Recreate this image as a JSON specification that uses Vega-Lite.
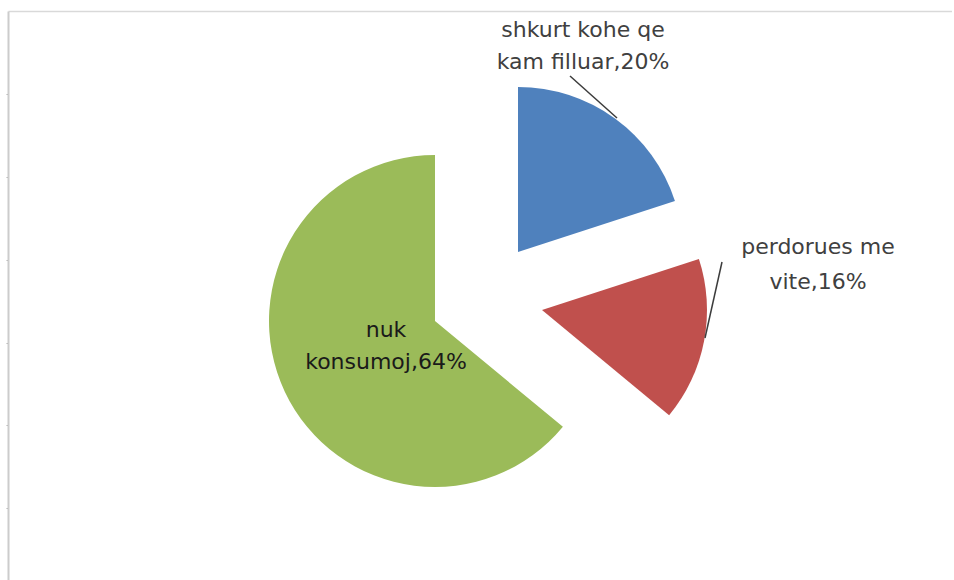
{
  "$schema": "https://vega.github.io/schema/vega-lite/v6.json",
  "width": 944,
  "height": 569,
  "autosize": "none",
  "padding": {"left": 8, "top": 11, "right": 0, "bottom": 0},
  "background": "white",
  "config": {"view": {"stroke": null}},
  "data": {
    "values": [
      {"cat": "shkurt kohe qe kam filluar", "value": 20, "order": 1, "label": "shkurt kohe qe\nkam filluar,20%"},
      {"cat": "perdorues me vite", "value": 16, "order": 2, "label": "perdorues me\nvite,16%"},
      {"cat": "nuk konsumoj", "value": 64, "order": 3, "label": "nuk\nkonsumoj,64%"}
    ]
  },
  "transform": [
    {"stack": "value", "groupby": [], "sort": [{"field": "order", "order": "ascending"}], "as": ["v0", "v1"]}
  ],
  "encoding": {
    "color": {
      "field": "cat", "type": "nominal", "legend": null,
      "scale": {"domain": ["shkurt kohe qe kam filluar", "perdorues me vite", "nuk konsumoj"], "range": ["#4F81BD", "#C0504D", "#9BBB59"]}
    }
  },
  "layer": [
    {
      "transform": [{"filter": "datum.order == 1"}],
      "mark": {"type": "arc", "radius": 165},
      "encoding": {
        "theta": {"field": "v0", "type": "quantitative", "scale": {"domain": [0, 100]}},
        "theta2": {"field": "v1"},
        "x": {"datum": 510, "type": "quantitative", "scale": {"domain": [0, 944]}, "axis": {"orient": "top", "labels": false, "ticks": false, "grid": false, "title": null, "domainColor": "#d9d9d9", "domainWidth": 1.5}},
        "y": {"datum": 241, "type": "quantitative", "scale": {"domain": [0, 569], "reverse": true}, "axis": {"orient": "left", "labels": false, "grid": false, "title": null, "values": [83, 166, 249, 332, 414, 497], "tickSize": 2, "tickColor": "#b0b0b0", "domainColor": "#cccccc", "domainWidth": 2}}
      }
    },
    {
      "transform": [{"filter": "datum.order == 2"}],
      "mark": {"type": "arc", "radius": 165},
      "encoding": {
        "theta": {"field": "v0", "type": "quantitative", "scale": {"domain": [0, 100]}},
        "theta2": {"field": "v1"},
        "x": {"datum": 534, "type": "quantitative", "scale": {"domain": [0, 944]}},
        "y": {"datum": 299, "type": "quantitative", "scale": {"domain": [0, 569], "reverse": true}}
      }
    },
    {
      "transform": [{"filter": "datum.order == 3"}],
      "mark": {"type": "arc", "radius": 166},
      "encoding": {
        "theta": {"field": "v0", "type": "quantitative", "scale": {"domain": [0, 100]}},
        "theta2": {"field": "v1"},
        "x": {"datum": 427, "type": "quantitative", "scale": {"domain": [0, 944]}},
        "y": {"datum": 310, "type": "quantitative", "scale": {"domain": [0, 569], "reverse": true}}
      }
    },
    {
      "transform": [{"filter": "datum.order == 1"}],
      "mark": {"type": "rule", "strokeWidth": 1.5},
      "encoding": {
        "x": {"datum": 562, "type": "quantitative", "scale": {"domain": [0, 944]}},
        "y": {"datum": 65, "type": "quantitative", "scale": {"domain": [0, 569], "reverse": true}},
        "x2": {"datum": 609},
        "y2": {"datum": 107},
        "color": {"value": "#3c3c3c"}
      }
    },
    {
      "transform": [{"filter": "datum.order == 2"}],
      "mark": {"type": "rule", "strokeWidth": 1.5},
      "encoding": {
        "x": {"datum": 714, "type": "quantitative", "scale": {"domain": [0, 944]}},
        "y": {"datum": 251, "type": "quantitative", "scale": {"domain": [0, 569], "reverse": true}},
        "x2": {"datum": 697},
        "y2": {"datum": 327},
        "color": {"value": "#3c3c3c"}
      }
    },
    {
      "transform": [{"filter": "datum.order == 1"}],
      "mark": {"type": "text", "font": "DejaVu Sans", "fontSize": 22, "lineBreak": "\n", "lineHeight": 32, "align": "center", "baseline": "middle"},
      "encoding": {
        "text": {"field": "label"},
        "x": {"datum": 575, "type": "quantitative", "scale": {"domain": [0, 944]}},
        "y": {"datum": 19, "type": "quantitative", "scale": {"domain": [0, 569], "reverse": true}},
        "color": {"value": "#404040"}
      }
    },
    {
      "transform": [{"filter": "datum.order == 2"}],
      "mark": {"type": "text", "font": "DejaVu Sans", "fontSize": 22, "lineBreak": "\n", "lineHeight": 35, "align": "center", "baseline": "middle"},
      "encoding": {
        "text": {"field": "label"},
        "x": {"datum": 810, "type": "quantitative", "scale": {"domain": [0, 944]}},
        "y": {"datum": 236, "type": "quantitative", "scale": {"domain": [0, 569], "reverse": true}},
        "color": {"value": "#404040"}
      }
    },
    {
      "transform": [{"filter": "datum.order == 3"}],
      "mark": {"type": "text", "font": "DejaVu Sans", "fontSize": 22, "lineBreak": "\n", "lineHeight": 32, "align": "center", "baseline": "middle"},
      "encoding": {
        "text": {"field": "label"},
        "x": {"datum": 378, "type": "quantitative", "scale": {"domain": [0, 944]}},
        "y": {"datum": 319, "type": "quantitative", "scale": {"domain": [0, 569], "reverse": true}},
        "color": {"value": "#1a1a1a"}
      }
    }
  ]
}
